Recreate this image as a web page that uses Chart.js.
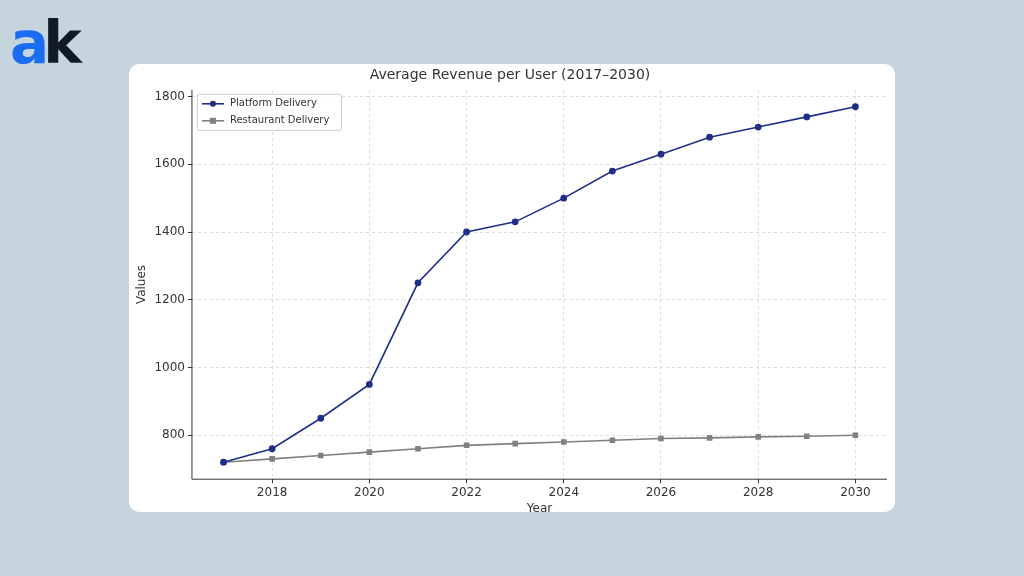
<!DOCTYPE html>
<html>
<head>
<meta charset="utf-8">
<script src="https://cdn.jsdelivr.net/npm/chart.js@4.4.1/dist/chart.umd.min.js"></script>
<style>
  html, body { margin: 0; padding: 0; width: 1024px; height: 576px; background: #c6d4de; overflow: hidden; font-family: "DejaVu Sans", sans-serif; }
  #logo { position: absolute; left: 10px; top: 14px; font: bold 58px "DejaVu Sans", sans-serif; letter-spacing: -6px; line-height: 1; }
  #logo .a { color: #1a6cf0; }
  #logo .k { color: #111b26; }
  #card { position: absolute; left: 129px; top: 64px; width: 766px; height: 448px; background: #fff; border-radius: 10px; }
  #card canvas { position: absolute; left: 0; top: 0; }
</style>
</head>
<body>
<div id="logo"><span class="a">a</span><span class="k">k</span></div>
<div id="card"><canvas id="c" width="766" height="448"></canvas></div>
<script>
const years = [2017, 2018, 2019, 2020, 2021, 2022, 2023, 2024, 2025, 2026, 2027, 2028, 2029, 2030];
const platform = [720, 760, 850, 950, 1250, 1400, 1430, 1500, 1580, 1630, 1680, 1710, 1740, 1770];
const restaurant = [720, 730, 740, 750, 760, 770, 775, 780, 785, 790, 792, 795, 797, 800];
const yTicks = [800, 1000, 1200, 1400, 1600, 1800];
const xTicks = [2018, 2020, 2022, 2024, 2026, 2028, 2030];

const pts = (vals) => vals.map((v, i) => ({ x: years[i], y: v }));

// matplotlib-style legend box inside the plot, top left
const boxLegend = {
  id: "boxLegend",
  afterDraw(chart) {
    const { ctx, chartArea } = chart;
    const x = chartArea.left + 5, y = chartArea.top + 4;
    ctx.save();
    ctx.fillStyle = "rgba(255,255,255,0.85)";
    ctx.strokeStyle = "#ccc";
    ctx.lineWidth = 1;
    ctx.beginPath();
    ctx.roundRect(x + 0.5, y + 0.5, 144, 36, 2);
    ctx.fill();
    ctx.stroke();
    ctx.font = "10px 'DejaVu Sans'";
    ctx.textBaseline = "middle";
    chart.data.datasets.forEach((ds, i) => {
      const ly = y + 10 + i * 17;
      ctx.strokeStyle = ds.borderColor;
      ctx.lineWidth = 1.6;
      ctx.beginPath();
      ctx.moveTo(x + 5, ly);
      ctx.lineTo(x + 27, ly);
      ctx.stroke();
      ctx.fillStyle = ds.backgroundColor;
      if (ds.pointStyle === "rect") ctx.fillRect(x + 13, ly - 3, 6, 6);
      else { ctx.beginPath(); ctx.arc(x + 16, ly, 3, 0, Math.PI * 2); ctx.fill(); }
      ctx.fillStyle = "#333";
      ctx.fillText(ds.label, x + 33, ly);
    });
    ctx.restore();
  },
};

// solid axis lines on left and bottom (grid lines are dashed)
const axisLines = {
  id: "axisLines",
  afterDatasetsDraw(chart) {
    const { ctx, chartArea: a } = chart;
    ctx.save();
    ctx.strokeStyle = "#333";
    ctx.lineWidth = 1;
    ctx.beginPath();
    ctx.moveTo(a.left, a.top);
    ctx.lineTo(a.left, a.bottom);
    ctx.lineTo(a.right, a.bottom);
    ctx.stroke();
    ctx.restore();
  },
};

new Chart(document.getElementById("c").getContext("2d"), {
  type: "line",
  data: {
    datasets: [
      { label: "Platform Delivery", data: pts(platform), borderColor: "#1f2f87", backgroundColor: "#1f2f87",
        borderWidth: 1.6, pointStyle: "circle", pointRadius: 2.6, tension: 0 },
      { label: "Restaurant Delivery", data: pts(restaurant), borderColor: "#808080", backgroundColor: "#808080",
        borderWidth: 1.6, pointStyle: "rect", pointRadius: 2.8, tension: 0 },
    ],
  },
  plugins: [axisLines, boxLegend],
  options: {
    animation: false,
    responsive: false,
    layout: { padding: { left: 4, right: 8, top: 0, bottom: -4 } },
    plugins: {
      title: { display: true, text: "Average Revenue per User (2017–2030)", color: "#333",
        font: { family: "DejaVu Sans", size: 14, weight: "normal" }, padding: { top: 3, bottom: 6 } },
      legend: { display: false },
      tooltip: { enabled: false },
    },
    scales: {
      x: {
        type: "linear", min: 2016.35, max: 2030.65,
        afterBuildTicks: (s) => { s.ticks = xTicks.map((v) => ({ value: v })); },
        ticks: { color: "#333", font: { family: "DejaVu Sans", size: 12 }, padding: 2, callback: (v) => String(v) },
        grid: { color: "#dcdcdc", tickColor: "#333", tickLength: 4 },
        border: { display: false, dash: [3, 3] },
        title: { display: true, text: "Year", color: "#333", font: { family: "DejaVu Sans", size: 12 }, padding: 0 },
      },
      y: {
        min: 670, max: 1820,
        afterBuildTicks: (s) => { s.ticks = yTicks.map((v) => ({ value: v })); },
        ticks: { color: "#333", font: { family: "DejaVu Sans", size: 12 }, callback: (v) => String(v) },
        grid: { color: "#dcdcdc", tickColor: "#333", tickLength: 4 },
        border: { display: false, dash: [3, 3] },
        title: { display: true, text: "Values", color: "#333", font: { family: "DejaVu Sans", size: 12 }, padding: 2 },
      },
    },
  },
});
</script>
</body>
</html>
